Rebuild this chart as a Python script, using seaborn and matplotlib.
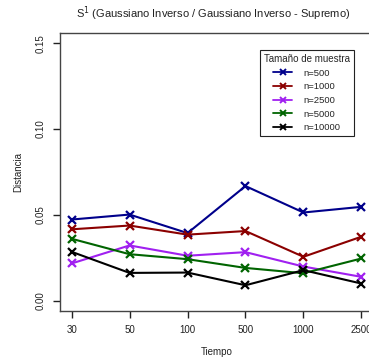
import matplotlib
matplotlib.use("Agg")
import matplotlib.pyplot as plt
import seaborn as sns
import pandas as pd
import numpy as np

tiempo = ["30", "50", "100", "500", "1000", "2500"]
n500 = [0.0473, 0.0502, 0.0394, 0.0668, 0.0514, 0.0547]
n1000 = [0.0416, 0.0438, 0.0385, 0.0406, 0.0256, 0.0373]
n2500 = [0.0217, 0.0322, 0.0262, 0.0283, 0.0199, 0.0139]
n5000 = [0.0361, 0.0271, 0.0242, 0.0191, 0.0160, 0.0246]
n10000 = [0.0285, 0.0162, 0.0164, 0.0090, 0.0178, 0.0100]
series_names = ["n=500", "n=1000", "n=2500", "n=5000", "n=10000"]
colors = ["#00008B", "#8B0000", "#A020F0", "#006400", "#000000"]

sns.set_style("white")
plt.rcParams['font.family'] = ['Liberation Sans', 'DejaVu Sans']

rows = []
for name, vals in zip(series_names, [n500, n1000, n2500, n5000, n10000]):
    for i, v in enumerate(vals):
        rows.append({"pos": i + 1, "Distancia": v, "n": name})
df = pd.DataFrame(rows)

fig = plt.figure(figsize=(3.69, 3.64), dpi=100)
ax = fig.add_axes([60/369, 1 - 311/364, (373 - 60)/369, (311 - 33)/364])

sns.lineplot(data=df, x="pos", y="Distancia", hue="n", hue_order=series_names,
             palette=dict(zip(series_names, colors)), marker="x", markersize=6,
             markeredgewidth=1.6, linewidth=1.5, ax=ax, legend=False)
for ln in ax.lines:
    ln.set_markeredgecolor(ln.get_color())
    ln.set_markerfacecolor(ln.get_color())

ax.set_xlim(0.8, 6.2)
ax.set_ylim(-0.006, 0.156)
ax.set_xticks(range(1, 7))
ax.set_xticklabels(tiempo, fontsize=7, color="#222222")
ax.set_yticks([0.0, 0.05, 0.10, 0.15])
ax.set_yticklabels(["0.00", "0.05", "0.10", "0.15"], fontsize=7, rotation=90,
                   va="center", color="#222222")
ax.tick_params(axis="both", direction="out", length=5, width=1, color="#222222",
               bottom=True, left=True, pad=5)
for s in ax.spines.values():
    s.set_color("#444444")
    s.set_linewidth(1)
ax.set_xlabel("Tiempo", fontsize=7, labelpad=9, color="#222222")
ax.set_ylabel("Distancia", fontsize=7, labelpad=9, color="#222222")
fig.text(213/369, 1 - 14/364, r"S$^{1}$ (Gaussiano Inverso / Gaussiano Inverso - Supremo)",
         ha="center", va="center", fontsize=8, color="#222222")

from matplotlib.lines import Line2D
handles = [Line2D([], [], color=c, marker="x", markersize=4, markeredgewidth=1.4,
                  linewidth=1.3) for c in colors]
leg = ax.legend(handles, series_names, title="Tamaño de muestra",
                loc="upper left", bbox_to_anchor=((260 - 60)/313, 1 - (50 - 33)/278),
                fontsize=6.8, title_fontsize=7, fancybox=False, framealpha=1,
                edgecolor="#222222", handlelength=2.0, labelspacing=0.5,
                borderpad=0.4, handletextpad=1.2, borderaxespad=0)
leg.get_frame().set_linewidth(0.8)

fig.savefig("out.png", dpi=100)
